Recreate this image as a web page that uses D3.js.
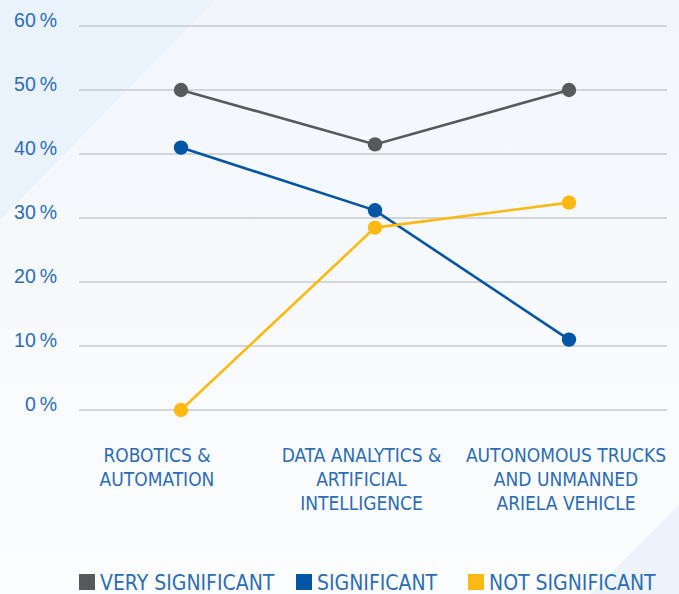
<!DOCTYPE html>
<html>
<head>
<meta charset="utf-8">
<script src="https://cdn.jsdelivr.net/npm/d3@7"></script>
<style>
  html, body { margin: 0; padding: 0; background: #fbfcfe; }
  svg { display: block; }
  text { font-family: "Liberation Sans Narrow", "Arial Narrow", "DejaVu Sans Condensed", sans-serif; }
</style>
</head>
<body>
<svg id="chart" width="679" height="594"></svg>
<script>
const categories = [
  ["ROBOTICS &", "AUTOMATION"],
  ["DATA ANALYTICS &", "ARTIFICIAL", "INTELLIGENCE"],
  ["AUTONOMOUS TRUCKS", "AND UNMANNED", "ARIELA VEHICLE"]
];
const seriesNames = ["VERY SIGNIFICANT", "SIGNIFICANT", "NOT SIGNIFICANT"];
const verySignificant = [50, 41.5, 50];
const significant = [41, 31.2, 11];
const notSignificant = [0, 28.5, 32.4];
const yTicks = [0, 10, 20, 30, 40, 50, 60];
const colors = ["#58595b", "#0055a5", "#fdb913"];

const W = 679, H = 594;
const svg = d3.select("#chart");

// background
const defs = svg.append("defs");
const grad = defs.append("linearGradient").attr("id", "bg").attr("x1", 0).attr("y1", 0).attr("x2", 0).attr("y2", 1);
grad.append("stop").attr("offset", "0%").attr("stop-color", "#f2f6fb");
grad.append("stop").attr("offset", "100%").attr("stop-color", "#fcfdfe");
svg.append("rect").attr("width", W).attr("height", H).attr("fill", "url(#bg)");
svg.append("path").attr("d", "M0,0 L215,0 L0,220 Z").attr("fill", "#eaf2fb");
svg.append("path").attr("d", "M590,594 L679,505 L679,594 Z").attr("fill", "#edf3fb");

const keys = categories.map(c => c.join(" "));
const x = d3.scalePoint().domain(keys).range([181, 569]);
const xLabel = d3.scalePoint().domain(keys).range([157, 566]);
const y = d3.scaleLinear().domain([0, 60]).range([410, 26]);

// grid
svg.append("g").selectAll("line").data(yTicks).join("line")
  .attr("x1", 79).attr("x2", 667)
  .attr("y1", d => y(d)).attr("y2", d => y(d))
  .attr("stroke", "#c9cacc").attr("stroke-width", 1.5);

// y labels
svg.append("g").selectAll("text").data(yTicks).join("text")
  .attr("x", 57).attr("y", d => y(d) + 1)
  .attr("text-anchor", "end")
  .attr("fill", "#2b6cb5")
  .style("font-family", "'Liberation Sans', Arial, sans-serif")
  .style("font-size", "19.5px")
  .text(d => d + "\u2009%");

// x labels
const xl = svg.append("g").selectAll("text").data(categories).join("text")
  .attr("text-anchor", "middle")
  .attr("fill", "#2b6cb5")
  .style("font-size", "19px")
  .attr("x", (d, i) => xLabel(keys[i]))
  .attr("y", 462);
xl.selectAll("tspan").data(d => d).join("tspan")
  .attr("x", function() { return d3.select(this.parentNode).attr("x"); })
  .attr("dy", (d, i) => i === 0 ? 0 : 24)
  .text(d => d);

// lines
const series = [verySignificant, significant, notSignificant];
const line = d3.line().x((d, i) => x(keys[i])).y(d => y(d));
series.forEach((vals, s) => {
  svg.append("path").datum(vals)
    .attr("d", line)
    .attr("fill", "none")
    .attr("stroke", colors[s])
    .attr("stroke-width", 2.6);
});
series.forEach((vals, s) => {
  svg.append("g").selectAll("circle").data(vals).join("circle")
    .attr("cx", (d, i) => x(keys[i]))
    .attr("cy", d => y(d))
    .attr("r", 7.2)
    .attr("fill", colors[s]);
});

// legend
const legendX = [79, 296, 468];
const lg = svg.append("g").selectAll("g").data(seriesNames).join("g")
  .attr("transform", (d, i) => `translate(${legendX[i]},574)`);
lg.append("rect").attr("width", 16).attr("height", 16).attr("fill", (d, i) => colors[i]);
lg.append("text").attr("x", 21).attr("y", 16)
  .attr("fill", "#2b6cb5")
  .style("font-size", "21px")
  .text(d => d);
</script>
</body>
</html>
